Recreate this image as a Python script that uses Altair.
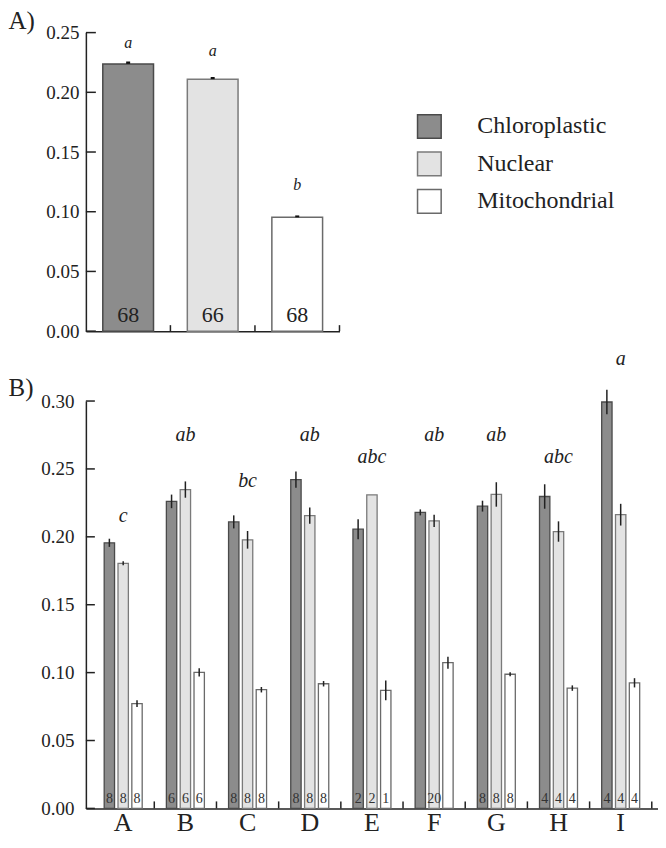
import altair as alt
import pandas as pd

FONT = "Liberation Serif"

# ---------------- data ----------------
series = ["Chloroplastic", "Nuclear", "Mitochondrial"]
fills = ["#8c8c8c", "#e3e3e3", "#ffffff"]
strokes = ["#4a4a4a", "#7a7a7a", "#6a6a6a"]

# Panel A
a_means = [0.2238, 0.2110, 0.0953]
a_err = [0.0020, 0.0018, 0.0016]
a_n = ["68", "66", "68"]
a_letters = ["a", "a", "b"]
a_letter_y = [0.2416, 0.2344, 0.1220]
a_ticks = [0.00, 0.05, 0.10, 0.15, 0.20, 0.25]

# Panel B
groups = ["A", "B", "C", "D", "E", "F", "G", "H", "I"]
b_chloro = [0.1956, 0.2261, 0.2110, 0.2421, 0.2056, 0.2180, 0.2226, 0.2297, 0.2993]
b_chloro_err = [0.0030, 0.0050, 0.0048, 0.0060, 0.0073, 0.0022, 0.0040, 0.0090, 0.0090]
b_nuclear = [0.1805, 0.2348, 0.1978, 0.2156, 0.2309, 0.2117, 0.2312, 0.2039, 0.2163]
b_nuclear_err = [0.0015, 0.0060, 0.0065, 0.0060, 0.0000, 0.0045, 0.0090, 0.0075, 0.0080]
b_mito = [0.0772, 0.1002, 0.0874, 0.0918, 0.0869, 0.1073, 0.0988, 0.0886, 0.0925]
b_mito_err = [0.0025, 0.0030, 0.0020, 0.0020, 0.0073, 0.0044, 0.0015, 0.0020, 0.0034]
b_n_chloro = ["8", "6", "8", "8", "2", "", "8", "4", "4"]
b_n_nuclear = ["8", "6", "8", "8", "2", "20", "8", "4", "4"]
b_n_mito = ["8", "6", "8", "8", "1", "", "8", "4", "4"]
b_letters = ["c", "ab", "bc", "ab", "abc", "ab", "ab", "abc", "a"]
b_letter_y = [0.2153, 0.2752, 0.2409, 0.2752, 0.2591, 0.2752, 0.2752, 0.2591, 0.3307]
b_ticks = [0.00, 0.05, 0.10, 0.15, 0.20, 0.25, 0.30]

# ---------------- tables ----------------
dfa = pd.DataFrame({"series": series, "mean": a_means, "err": a_err, "n": a_n,
                    "letter": a_letters, "ly": a_letter_y})
dfa["lo"] = dfa["mean"]
dfa["hi"] = dfa["mean"] + dfa["err"]
dfa["zero"] = 0.0

rows = []
for i, g in enumerate(groups):
    for s, m, e, n in zip(series,
                          [b_chloro[i], b_nuclear[i], b_mito[i]],
                          [b_chloro_err[i], b_nuclear_err[i], b_mito_err[i]],
                          [b_n_chloro[i], b_n_nuclear[i], b_n_mito[i]]):
        rows.append({"group": g, "series": s, "mean": m, "lo": m - e, "hi": m + e,
                     "n": n, "zero": 0.0})
dfb = pd.DataFrame(rows)
dfb_letters = pd.DataFrame({"group": groups, "letter": b_letters, "ly": b_letter_y})

color_enc = lambda legend: alt.Color("series:N", scale=alt.Scale(domain=series, range=fills), legend=legend)
stroke_enc = alt.Stroke("series:N", scale=alt.Scale(domain=series, range=strokes), legend=None)

# ---------------- panel A ----------------
A_W, A_H = 254, 299
xA_scale = alt.Scale(domain=series, paddingInner=0, paddingOuter=0)
xA_axis = alt.Axis(labels=False, ticks=False, title=None, grid=False)
yA_scale = alt.Scale(domain=[0, 0.25], nice=False)
yA_axis = alt.Axis(values=a_ticks, format=".2f", ticks=False, tickSize=0, labelPadding=7,
                   labelFont=FONT, labelFontSize=19, grid=False, title="A)", titleAngle=0, titleX=-78,
                   titleY=-4, titleAlign="left", titleBaseline="alphabetic", titleFontSize=25)


def xA(**kw):
    return alt.X("series:N", scale=xA_scale, axis=xA_axis, **kw)


def yA(f):
    return alt.Y(f, scale=yA_scale, axis=yA_axis)


legendA = alt.Legend(title=None, orient="none", legendX=331, legendY=81, symbolType="square",
                     symbolSize=560, symbolStrokeColor="#555", symbolStrokeWidth=1.5,
                     labelFont=FONT, labelFontSize=24, labelColor="#222", labelOffset=35,
                     rowPadding=7.5, symbolOpacity=1)

barsA = alt.Chart(dfa).mark_bar(width=alt.RelativeBandSize(0.6), strokeWidth=1.5).encode(
    x=xA(), y=yA("mean:Q"), color=color_enc(legendA), stroke=stroke_enc)
errA = alt.Chart(dfa).mark_rule(strokeWidth=4, color="#111").encode(
    x=xA(), y=yA("lo:Q"), y2="hi:Q")
nA = alt.Chart(dfa).mark_text(font=FONT, fontSize=22, baseline="alphabetic", dy=-9, color="#222").encode(
    x=xA(), y=yA("zero:Q"), text="n:N")
letA = alt.Chart(dfa).mark_text(font=FONT, fontSize=16, fontStyle="italic", baseline="middle", color="#222").encode(
    x=xA(), y=yA("ly:Q"), text="letter:N")
xtA = alt.Chart(pd.DataFrame({"series": series})).mark_rule(color="#222", strokeWidth=1.5).encode(
    x=xA(bandPosition=1), y=alt.value(A_H), y2=alt.value(A_H - 6))
ytA = alt.Chart(pd.DataFrame({"v": a_ticks})).mark_rule(color="#222", strokeWidth=1.5).encode(
    x=alt.value(0), x2=alt.value(10), y=yA("v:Q"))

panelA = alt.layer(barsA, errA, nA, letA, xtA, ytA).properties(width=A_W, height=A_H)

# ---------------- panel B ----------------
B_W, B_H = 573, 408
xB_scale = alt.Scale(domain=groups, paddingInner=0, paddingOuter=0.1)
xB_axis = alt.Axis(labelFont=FONT, labelFontSize=26, labelPadding=1, ticks=False, title=None,
                   labelAngle=0, grid=False)
yB_scale = alt.Scale(domain=[0, 0.30], nice=False)
yB_axis = alt.Axis(values=b_ticks, format=".2f", ticks=False, tickSize=0, labelPadding=12,
                   labelFont=FONT, labelFontSize=19, grid=False, title="B)", titleAngle=0, titleX=-78,
                   titleY=-6, titleAlign="left", titleBaseline="alphabetic", titleFontSize=25)
xoff = alt.XOffset("series:N", scale=alt.Scale(domain=series, paddingInner=0.25, paddingOuter=0.875))


def xB(**kw):
    return alt.X("group:N", scale=xB_scale, axis=xB_axis, **kw)


def yB(f):
    return alt.Y(f, scale=yB_scale, axis=yB_axis)


barsB = alt.Chart(dfb).mark_bar(strokeWidth=1.3).encode(
    x=xB(), xOffset=xoff, y=yB("mean:Q"), color=color_enc(None), stroke=stroke_enc)
errB = alt.Chart(dfb).transform_filter("datum.hi > datum.lo").mark_rule(strokeWidth=1.5, color="#222").encode(
    x=xB(), xOffset=xoff, y=yB("lo:Q"), y2="hi:Q")
nB = alt.Chart(dfb).transform_filter("datum.n != ''").mark_text(
    font=FONT, fontSize=14, baseline="alphabetic", dy=-5, color="#333").encode(
    x=xB(), xOffset=xoff, y=yB("zero:Q"), text="n:N")
letB = alt.Chart(dfb_letters).mark_text(font=FONT, fontSize=20, fontStyle="italic", baseline="middle", color="#222").encode(
    x=xB(), y=yB("ly:Q"), text="letter:N")
xtB = alt.Chart(pd.DataFrame({"group": groups})).mark_rule(color="#222", strokeWidth=1.5).encode(
    x=xB(bandPosition=1), y=alt.value(B_H), y2=alt.value(B_H - 7))
ytB = alt.Chart(pd.DataFrame({"v": b_ticks})).mark_rule(color="#222", strokeWidth=1.5).encode(
    x=alt.value(0), x2=alt.value(9), y=yB("v:Q"))

panelB = alt.layer(barsB, errB, nB, letB, xtB, ytB).properties(width=B_W, height=B_H)

chart = alt.vconcat(panelA, panelB, spacing=8).resolve_scale(
    color="independent", stroke="independent"
).properties(padding=0, background="white").configure_view(stroke=None).configure_axis(
    domainColor="#222", domainWidth=1.5, labelFont=FONT, labelColor="#222",
    titleFont=FONT, titleFontWeight="normal", titleColor="#222"
).configure_axisY(labelFont=FONT).configure_axisQuantitative(labelFont=FONT)

chart.save("out.html", embed_options={"renderer": "svg", "actions": False})
